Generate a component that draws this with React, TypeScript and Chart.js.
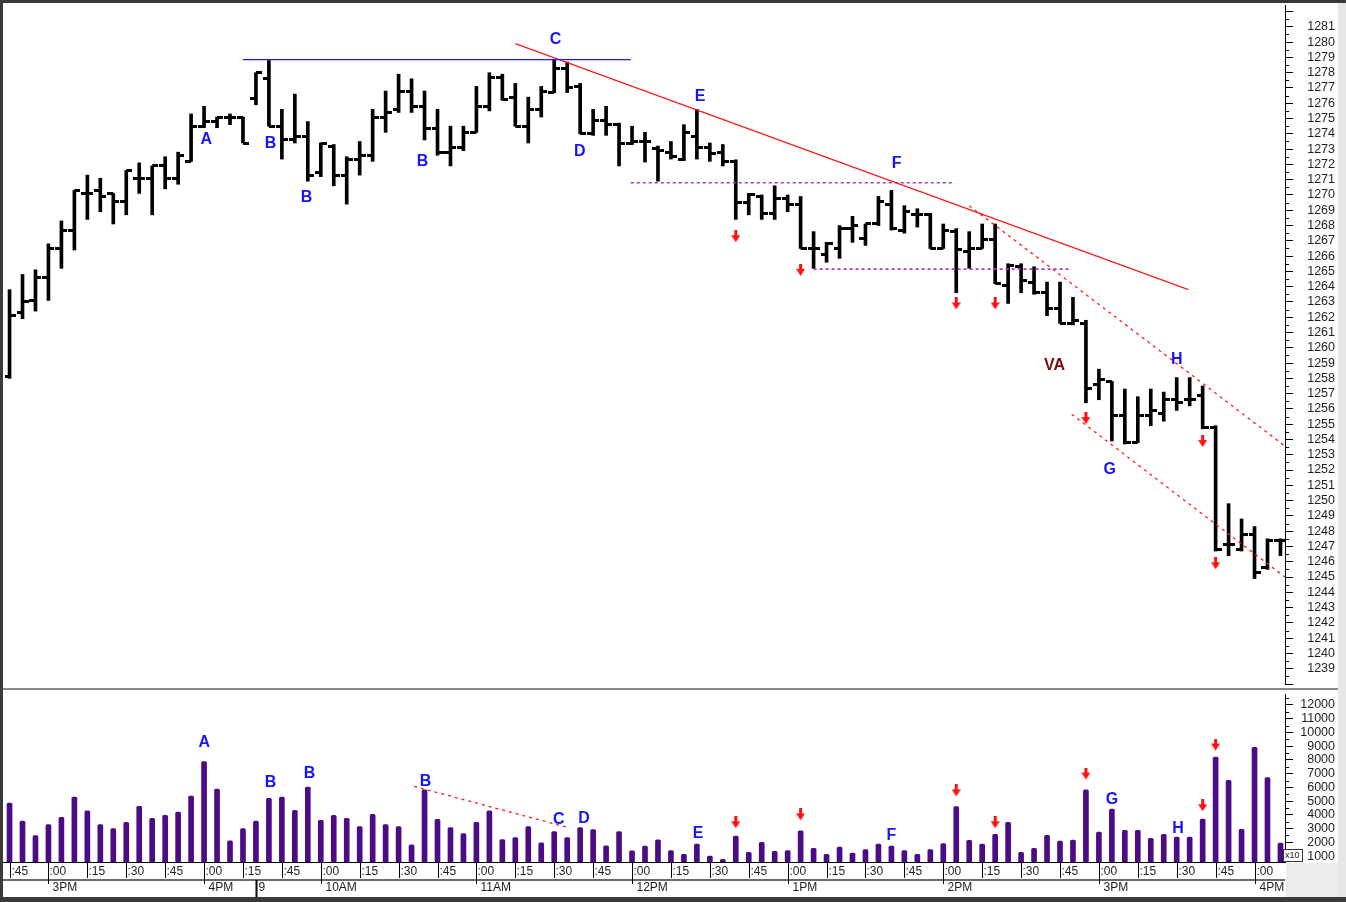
import { useEffect, useRef } from 'react';
import { Chart, registerables } from 'chart.js';

Chart.register(...registerables);
Chart.defaults.font.family = '"Liberation Sans", Arial, sans-serif';

// 5-minute bars: 2:45-4:15 PM of the prior session, then 9:35 AM-4:10 PM on the 9th
const opens = [
  1258.1, 1262.3, 1263.1, 1264.6, 1266.5, 1267.7, 1270.1, 1270.3, 1270.1, 1269.6,
  1271.1, 1271.1, 1271.9, 1271.1, 1272.2, 1274.5, 1274.8, 1275.1, 1275.1, 1276.3,
  1277.6, 1274.5, 1273.6, 1273.8, 1271.5, 1273.2, 1271.3, 1272.3, 1272.6, 1275.1,
  1275.6, 1276.8, 1275.8, 1274.35, 1272.8, 1273.1, 1274.1, 1275.8, 1277.7, 1276.4,
  1274.5, 1275.6, 1276.7, 1278.3, 1277.1, 1274.0, 1274.9, 1274.6, 1273.4, 1273.5,
  1273.05, 1272.8, 1272.35, 1273.8, 1273.1, 1272.8, 1272.2, 1269.5, 1269.9, 1268.8,
  1269.75, 1269.4, 1266.5, 1266.1, 1266.5, 1267.8, 1267.15, 1268.1, 1269.4, 1267.7,
  1268.7, 1268.7, 1266.5, 1267.6, 1266.3, 1266.5, 1267.1, 1264.1, 1265.3, 1264.3,
  1263.6, 1262.6, 1261.6, 1261.6, 1257.6, 1257.8, 1255.6, 1253.8, 1255.55, 1255.7,
  1256.6, 1256.6, 1256.9, 1254.8, 1247.1, 1246.8, 1247.75, 1245.6, 1247.4,
];
const highs = [
  1263.8, 1264.8, 1265.1, 1266.8, 1268.3, 1270.3, 1271.3, 1271.1, 1270.1, 1271.6,
  1272.1, 1271.9, 1272.5, 1272.8, 1275.3, 1275.8, 1275.1, 1275.3, 1275.1, 1278.0,
  1278.8, 1275.6, 1276.6, 1274.8, 1273.4, 1273.3, 1272.5, 1273.5, 1275.6, 1276.8,
  1277.9, 1277.6, 1276.8, 1275.6, 1274.5, 1274.5, 1277.1, 1278.0, 1277.9, 1277.3,
  1276.4, 1277.1, 1278.85, 1278.7, 1277.3, 1275.6, 1275.8, 1274.7, 1274.5, 1274.1,
  1273.2, 1273.5, 1274.6, 1275.6, 1273.4, 1273.3, 1272.3, 1270.1, 1270.0, 1270.6,
  1270.0, 1269.9, 1267.6, 1266.9, 1268.0, 1268.6, 1268.1, 1269.9, 1270.3, 1269.3,
  1269.1, 1268.8, 1268.1, 1267.8, 1267.6, 1268.1, 1268.1, 1265.5, 1265.5, 1265.3,
  1264.3, 1264.3, 1263.3, 1261.8, 1258.6, 1257.8, 1257.3, 1256.8, 1257.3, 1257.1,
  1258.05, 1258.05, 1257.5, 1254.9, 1249.8, 1248.8, 1248.3, 1247.5, 1247.5,
];
const lows = [
  1258.0, 1261.9, 1262.4, 1263.1, 1265.2, 1266.4, 1268.4, 1268.9, 1268.1, 1268.7,
  1270.1, 1268.7, 1270.4, 1270.7, 1272.2, 1274.4, 1274.4, 1274.6, 1273.4, 1275.9,
  1274.5, 1272.35, 1273.4, 1270.9, 1271.2, 1270.6, 1269.4, 1271.3, 1272.2, 1274.1,
  1275.4, 1275.4, 1273.6, 1272.6, 1271.9, 1272.9, 1274.1, 1275.5, 1276.2, 1274.5,
  1273.4, 1275.1, 1276.7, 1276.7, 1274.0, 1273.9, 1273.9, 1271.9, 1273.3, 1272.15,
  1270.9, 1272.35, 1272.25, 1272.35, 1272.2, 1271.9, 1268.4, 1268.7, 1268.4, 1268.4,
  1268.9, 1266.5, 1265.2, 1265.6, 1265.85, 1266.9, 1266.7, 1268.0, 1267.7, 1267.5,
  1267.9, 1266.5, 1266.5, 1263.6, 1265.2, 1266.5, 1264.2, 1262.9, 1263.6, 1263.5,
  1262.1, 1261.6, 1261.5, 1256.4, 1256.6, 1253.9, 1253.7, 1253.8, 1254.9, 1255.2,
  1255.9, 1256.2, 1254.7, 1246.7, 1246.4, 1246.7, 1244.9, 1245.5, 1246.4,
];
const closes = [
  1262.1, 1263.0, 1264.6, 1266.5, 1267.7, 1270.3, 1270.1, 1269.9, 1269.6, 1271.6,
  1271.1, 1271.9, 1271.1, 1272.6, 1274.5, 1274.8, 1275.1, 1275.1, 1273.4, 1278.0,
  1274.5, 1273.6, 1273.8, 1271.3, 1273.4, 1271.3, 1272.3, 1272.6, 1275.1, 1275.4,
  1276.8, 1275.8, 1274.35, 1272.8, 1273.1, 1274.1, 1275.8, 1277.7, 1276.25, 1274.5,
  1275.6, 1276.8, 1278.3, 1277.0, 1274.0, 1274.9, 1274.6, 1273.4, 1273.5, 1273.5,
  1272.9, 1272.5, 1274.1, 1273.1, 1272.7, 1272.2, 1269.5, 1270.0, 1268.8, 1269.75,
  1269.4, 1266.5, 1266.5, 1266.8, 1267.8, 1268.0, 1268.1, 1269.6, 1267.8, 1268.9,
  1268.7, 1266.5, 1267.7, 1266.4, 1266.5, 1267.1, 1264.2, 1265.4, 1264.4, 1263.6,
  1262.6, 1261.6, 1261.8, 1257.35, 1257.9, 1255.6, 1253.8, 1255.6, 1255.9, 1256.6,
  1256.4, 1256.6, 1254.8, 1246.8, 1247.1, 1247.8, 1245.3, 1247.4, 1247.4,
];
const volumes = [
  4860, 3540, 2500, 3290, 3830, 5300, 4290, 3290, 3000, 3460,
  4620, 3750, 3970, 4210, 5370, 7880, 5880, 2110, 3000, 3540,
  5200, 5300, 4330, 6020, 3610, 3970, 3750, 3150, 4040, 3290,
  3150, 1820, 5830, 3680, 3080, 2640, 3460, 4290, 2210, 2350,
  3150, 1970, 2790, 2350, 3080, 2930, 1750, 2790, 1390, 1730,
  2180, 1410, 1120, 1870, 1000, 760, 2450, 1270, 2010, 1340,
  1410, 2840, 1560, 1120, 1650, 1220, 1480, 1870, 1720, 1410,
  1120, 1480, 1920, 4600, 2140, 1870, 2590, 3460, 1270, 1560,
  2520, 2090, 2160, 5830, 2740, 4430, 2880, 2880, 2300, 2590,
  2380, 2380, 3700, 8200, 6510, 2950, 8920, 6720, 1940,
];

const priceTicks = [
  1238, 1239, 1240, 1241, 1242, 1243, 1244, 1245, 1246, 1247, 1248, 1249, 1250, 1251, 1252,
  1253, 1254, 1255, 1256, 1257, 1258, 1259, 1260, 1261, 1262, 1263, 1264, 1265, 1266, 1267,
  1268, 1269, 1270, 1271, 1272, 1273, 1274, 1275, 1276, 1277, 1278, 1279, 1280, 1281, 1282,
];
const volumeTicks = [1000, 2000, 3000, 4000, 5000, 6000, 7000, 8000, 9000, 10000, 11000, 12000];

const minuteTicks = [0, 3, 6, 9, 12, 15, 18, 21, 24, 27, 30, 33, 36, 39, 42, 45, 48, 51, 54, 57, 60, 63, 66, 69, 72, 75, 78, 81, 84, 87, 90, 93, 96];
const minuteLabels = [':45', ':00', ':15', ':30', ':45', ':00', ':15', ':45', ':00', ':15', ':30', ':45', ':00', ':15', ':30', ':45', ':00', ':15', ':30', ':45', ':00', ':15', ':30', ':45', ':00', ':15', ':30', ':45', ':00', ':15', ':30', ':45', ':00'];
const hourTicks = [3, 15, 19, 24, 36, 48, 60, 72, 84, 96];
const hourLabels = ['3PM', '4PM', '9', '10AM', '11AM', '12PM', '1PM', '2PM', '3PM', '4PM'];

// red down arrows (bar index, level in each panel)
const arrowBars = [56, 61, 73, 76, 83, 92, 93];
const priceArrowLevels = [1267.3, 1265.1, 1262.9, 1262.9, 1255.4, 1253.9, 1245.9];
const volumeArrowLevels = [3460, 4040, 5780, 3460, 7010, 4700, 9120];

// letter notes: [text, bar index, level]
const priceNotes: [string, number, number][] = [
  ['A', 15.17, 1273.6], ['B', 20.12, 1273.33], ['B', 22.9, 1269.82], ['B', 31.85, 1272.16],
  ['C', 42.1, 1280.15], ['D', 43.98, 1272.81], ['E', 53.24, 1276.45], ['F', 68.4, 1272.03],
  ['G', 84.83, 1252.0], ['H', 90.0, 1259.22],
];
const valueAreaNote: [string, number, number] = ['VA', 80.58, 1258.83];
const volumeNotes: [string, number, number][] = [
  ['A', 15.02, 9260], ['B', 20.12, 6360], ['B', 23.13, 7010], ['B', 32.08, 6430],
  ['C', 42.36, 3680], ['D', 44.29, 3750], ['E', 53.09, 2670], ['F', 68.0, 2520],
  ['G', 85.0, 5130], ['H', 90.1, 3030],
];

// drawn lines: [bar index, level]
const highLine = [[18.0, 1278.85], [47.9, 1278.85]];
const trendLine = [[39.0, 1279.9], [90.9, 1263.8]];
const upperShelf = [[47.9, 1270.8], [72.9, 1270.8]];
const lowerShelf = [[62.0, 1265.15], [81.9, 1265.15]];
const channelTop = [[74.0, 1269.3], [98.3, 1253.6]];
const channelBottom = [[81.9, 1255.65], [98.35, 1245.0]];
const volumeSlope = [[31.2, 6070], [43.2, 3050]];

const X_MIN = -0.35;
const X_MAX = 98.35;
const FONT = '"Liberation Sans", Arial, sans-serif';

function tickImage(side: 'left' | 'right') {
  const c = document.createElement('canvas');
  c.width = 12;
  c.height = 3;
  const g = c.getContext('2d')!;
  g.fillStyle = '#000';
  g.fillRect(side === 'left' ? 0 : 6, 0, 6, 3);
  return c;
}

function arrowImage() {
  const c = document.createElement('canvas');
  c.width = 9;
  c.height = 12;
  const g = c.getContext('2d')!;
  g.fillStyle = '#ff1010';
  g.fillRect(3, 0, 3, 6);
  g.beginPath();
  g.moveTo(0, 5);
  g.lineTo(9, 5);
  g.lineTo(4.5, 12);
  g.closePath();
  g.fill();
  return c;
}

const toPoints = (pts: number[][]) => pts.map(([x, y]) => ({ x, y }));

function lineSet(pts: number[][], color: string, width: number, dash: number[] = []) {
  return {
    type: 'line' as const,
    data: toPoints(pts),
    borderColor: color,
    borderWidth: width,
    borderDash: dash,
    pointRadius: 0,
    fill: false,
  };
}

const notesPlugin = (notes: [string, number, number][], extra?: [string, number, number]) => ({
  id: 'notes',
  afterDatasetsDraw(chart: any) {
    const { ctx, scales } = chart;
    ctx.save();
    ctx.font = `bold 16px ${FONT}`;
    ctx.textAlign = 'center';
    ctx.textBaseline = 'middle';
    ctx.fillStyle = '#1414ff';
    notes.forEach(([t, x, y]) => ctx.fillText(t, scales.x.getPixelForValue(x), scales.y.getPixelForValue(y)));
    if (extra) {
      ctx.fillStyle = '#7a0a0a';
      ctx.fillText(extra[0], scales.x.getPixelForValue(extra[1]), scales.y.getPixelForValue(extra[2]));
    }
    ctx.restore();
  },
});

const minorTicksPlugin = (step: number, major: number) => ({
  id: 'minorTicks',
  afterDraw(chart: any) {
    const { ctx } = chart;
    const s = chart.scales.y;
    ctx.save();
    ctx.strokeStyle = '#000';
    ctx.lineWidth = 1;
    ctx.beginPath();
    for (let v = Math.ceil(s.min / step) * step; v <= s.max; v += step) {
      const r = v / major;
      if (Math.abs(r - Math.round(r)) < 1e-6) continue;
      const py = Math.round(s.getPixelForValue(v)) + 0.5;
      ctx.moveTo(s.left, py);
      ctx.lineTo(s.left + 4, py);
    }
    ctx.stroke();
    ctx.restore();
  },
});

const timeAxisPlugin = {
  id: 'timeAxis',
  afterDraw(chart: any) {
    const { ctx, chartArea, scales } = chart;
    const top = chartArea.bottom;
    const right = chartArea.right;
    ctx.save();
    ctx.strokeStyle = '#000';
    ctx.lineWidth = 1;
    ctx.beginPath();
    ctx.moveTo(3, top + 0.5);
    ctx.lineTo(right, top + 0.5);
    ctx.stroke();
    ctx.strokeStyle = '#6a6a6a';
    ctx.lineWidth = 2;
    ctx.beginPath();
    ctx.moveTo(3, top + 18);
    ctx.lineTo(right, top + 18);
    ctx.stroke();

    ctx.fillStyle = '#1e1e1e';
    ctx.font = `12px ${FONT}`;
    ctx.textBaseline = 'middle';
    ctx.textAlign = 'left';
    ctx.strokeStyle = '#000';
    ctx.lineWidth = 1;
    minuteTicks.forEach((idx, i) => {
      const px = Math.round(scales.x.getPixelForValue(idx)) + 0.5;
      const isHour = hourTicks.includes(idx);
      ctx.beginPath();
      ctx.moveTo(px, top);
      ctx.lineTo(px, top + (isHour ? 22 : 16));
      ctx.stroke();
      ctx.fillText(minuteLabels[i], px + 1, top + 10);
    });
    hourTicks.forEach((idx, i) => {
      const px = Math.round(scales.x.getPixelForValue(idx)) + 0.5;
      const label = hourLabels[i];
      if (label === '9') {
        ctx.save();
        ctx.lineWidth = 2;
        ctx.beginPath();
        ctx.moveTo(px, top + 18);
        ctx.lineTo(px, top + 35);
        ctx.stroke();
        ctx.restore();
      }
      ctx.fillText(label, px + (label === '9' ? 2 : 4), top + 26);
    });

    // multiplier badge beside the volume scale
    ctx.strokeStyle = '#333';
    ctx.lineWidth = 1;
    ctx.fillStyle = '#fff';
    ctx.fillRect(right - 1.5, top - 12.5, 19, 12);
    ctx.strokeRect(right - 1.5, top - 12.5, 19, 12);
    ctx.fillStyle = '#222';
    ctx.font = `9px ${FONT}`;
    ctx.fillText('x10', right, top - 6);
    ctx.restore();
  },
};

function fixedAxis(width: number) {
  return (scale: any) => {
    scale.width = width;
    scale.paddingTop = 0;
    scale.paddingBottom = 0;
  };
}

const fixedTicks = (values: number[]) => (scale: any) => {
  scale.ticks = values.map((value) => ({ value }));
};

const xScale = { type: 'linear' as const, min: X_MIN, max: X_MAX, display: false, offset: false };

function PriceChart() {
  const ref = useRef<HTMLCanvasElement>(null);
  useEffect(() => {
    if (!ref.current) return;
    const arrow = arrowImage();
    const chart = new Chart(ref.current, {
      type: 'bar',
      data: {
        datasets: [
          lineSet(highLine, '#1a1aff', 1.2),
          lineSet(trendLine, '#ff1a1a', 1.3),
          lineSet(upperShelf, '#a63cc0', 1.6, [3, 3]),
          lineSet(lowerShelf, '#a63cc0', 1.6, [3, 3]),
          lineSet(channelTop, '#ff1a1a', 1.3, [3, 4]),
          lineSet(channelBottom, '#ff1a1a', 1.3, [3, 4]),
          {
            type: 'bar',
            data: highs.map((h, i) => ({ x: i, y: [lows[i], h] })),
            backgroundColor: '#000',
            barThickness: 3,
          },
          {
            type: 'line',
            data: opens.map((o, i) => ({ x: i, y: o })),
            showLine: false,
            pointStyle: tickImage('left'),
            pointRadius: 3,
          },
          {
            type: 'line',
            data: closes.map((c, i) => ({ x: i, y: c })),
            showLine: false,
            pointStyle: tickImage('right'),
            pointRadius: 3,
          },
          {
            type: 'line',
            data: arrowBars.map((b, i) => ({ x: b, y: priceArrowLevels[i] })),
            showLine: false,
            pointStyle: arrow,
            pointRadius: 4,
          },
        ] as any,
      },
      options: {
        responsive: false,
        animation: false,
        events: [],
        layout: { padding: { left: 5, top: 5, right: 5, bottom: 1 } },
        plugins: { legend: { display: false }, tooltip: { enabled: false } },
        scales: {
          x: xScale,
          y: {
            type: 'linear',
            position: 'right',
            min: 1238.0,
            max: 1282.43,
            afterBuildTicks: fixedTicks(priceTicks),
            afterFit: fixedAxis(50),
            border: { display: true, color: '#000', width: 1 },
            grid: { drawOnChartArea: false, drawTicks: true, tickLength: 8, color: '#000' },
            ticks: {
              autoSkip: false,
              padding: 11,
              crossAlign: 'far',
              color: '#1e1e1e',
              font: { size: 12.5, family: FONT },
              callback: (v: any) => (v >= 1239 && v <= 1281 ? String(v) : ''),
            },
          },
        },
      } as any,
      plugins: [notesPlugin(priceNotes, valueAreaNote), minorTicksPlugin(0.5, 1)],
    });
    return () => chart.destroy();
  }, []);
  return <canvas ref={ref} width={1340} height={689} style={{ position: 'absolute', left: 0, top: 0 }} />;
}

function VolumeChart() {
  const ref = useRef<HTMLCanvasElement>(null);
  useEffect(() => {
    if (!ref.current) return;
    const arrow = arrowImage();
    const chart = new Chart(ref.current, {
      type: 'bar',
      data: {
        datasets: [
          lineSet(volumeSlope, '#ff1a1a', 1.3, [3, 4]),
          {
            type: 'bar',
            data: volumes.map((v, i) => ({ x: i, y: v })),
            backgroundColor: '#4b0a86',
            barThickness: 5,
            borderRadius: 1.5,
          },
          {
            type: 'line',
            data: arrowBars.map((b, i) => ({ x: b, y: volumeArrowLevels[i] })),
            showLine: false,
            pointStyle: arrow,
            pointRadius: 4,
          },
        ] as any,
      },
      options: {
        responsive: false,
        animation: false,
        events: [],
        layout: { padding: { left: 5, top: 3, right: 5, bottom: 35 } },
        plugins: { legend: { display: false }, tooltip: { enabled: false } },
        scales: {
          x: xScale,
          y: {
            type: 'linear',
            position: 'right',
            min: 570,
            max: 12800,
            afterBuildTicks: fixedTicks(volumeTicks),
            afterFit: fixedAxis(50),
            border: { display: true, color: '#000', width: 1 },
            grid: { drawOnChartArea: false, drawTicks: true, tickLength: 8, color: '#000' },
            ticks: {
              autoSkip: false,
              padding: 3,
              crossAlign: 'far',
              color: '#1e1e1e',
              font: { size: 12.5, family: FONT },
              callback: (v: any) => String(v),
            },
          },
        },
      } as any,
      plugins: [notesPlugin(volumeNotes), minorTicksPlugin(500, 1000), timeAxisPlugin],
    });
    return () => chart.destroy();
  }, []);
  return <canvas ref={ref} width={1340} height={208} style={{ position: 'absolute', left: 0, top: 689 }} />;
}

export default function App() {
  return (
    <div style={{ position: 'relative', width: 1346, height: 902, background: '#3a3a3a', overflow: 'hidden' }}>
      <style>{'body{margin:0}'}</style>
      <div style={{ position: 'absolute', left: 3, top: 3, width: 1335, height: 894, background: '#fff' }} />
      <div style={{ position: 'absolute', left: 1338, top: 3, width: 8, height: 894, background: '#e6e6e6' }} />
      <div style={{ position: 'absolute', left: 1286, top: 863, width: 52, height: 34, background: '#ececec' }} />
      <div style={{ position: 'absolute', left: 3, top: 688, width: 1335, height: 2, background: '#8a8a8a' }} />
      <PriceChart />
      <VolumeChart />
    </div>
  );
}
